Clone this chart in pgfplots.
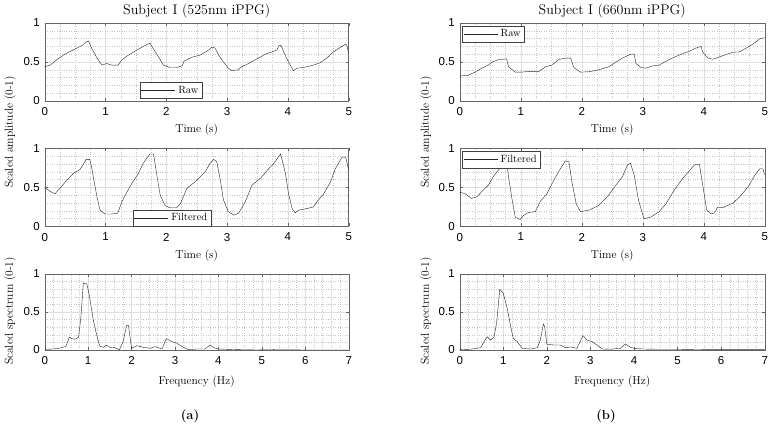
\documentclass[border=0pt]{standalone}
\usepackage{pgfplots}
\pgfplotsset{compat=1.18}
\usepackage{fontspec}
\newfontfamily\ticksf{Liberation Sans}

\pgfplotsset{
  panel/.style={
    scale only axis, width=304pt, height=78pt,
    anchor=south west,
    xmin=0, xmax=5, ymin=0, ymax=1,
    xtick={0,...,5}, ytick={0,0.5,1},
    minor x tick num=3, minor y tick num=4,
    grid=both,
    major grid style={black!13},
    minor grid style={dotted, black!22},
    axis line style={black!60},
    tick style={black!60},
    major tick length=3pt, minor tick length=0pt,
    tick label style={font=\fontsize{11.5}{12}\ticksf},
    /pgf/number format/assume math mode=true,
    xticklabel style={yshift=-3pt},
    yticklabel style={xshift=-1.5pt},
    xlabel style={font=\fontsize{11.5}{12}\selectfont,
      at={(axis description cs:0.5,0)}, anchor=base, yshift=-32pt},
    title style={font=\fontsize{14}{15}\selectfont,
      at={(axis description cs:0.5,1)}, anchor=base, yshift=2pt},
    legend style={font=\fontsize{10.5}{12}\selectfont, draw=black!75,
      inner sep=1pt, nodes={inner sep=2.8pt}, cells={anchor=west}},
    legend image code/.code={\draw[#1] (0pt,0pt) -- (34pt,0pt);},
    cycle list={{black!85, line width=0.6pt, no markers}},
  },
  spec/.style={panel, height=76pt, xmax=7, xtick={0,...,7},
    minor x tick num=4,
    xlabel style={yshift=-3pt}},
}

% raw, 525 nm
\pgfplotstableread{
t y
0 0.44
0.09 0.46
0.2 0.53
0.33 0.60
0.47 0.655
0.61 0.71
0.69 0.76
0.72 0.77
0.77 0.68
0.86 0.55
0.94 0.46
1.02 0.48
1.10 0.46
1.21 0.46
1.27 0.53
1.38 0.59
1.51 0.65
1.62 0.70
1.73 0.74
1.82 0.63
1.90 0.53
1.95 0.46
2.06 0.43
2.17 0.43
2.26 0.45
2.29 0.51
2.42 0.56
2.56 0.59
2.70 0.655
2.75 0.69
2.80 0.68
2.86 0.59
2.94 0.50
3.02 0.42
3.08 0.39
3.19 0.40
3.22 0.43
3.35 0.48
3.49 0.54
3.63 0.60
3.74 0.63
3.82 0.655
3.85 0.71
3.89 0.71
3.93 0.63
4.01 0.50
4.09 0.39
4.15 0.42
4.26 0.43
4.42 0.46
4.53 0.49
4.64 0.55
4.75 0.63
4.86 0.685
4.95 0.73
4.97 0.71
5.0 0.61
}\rawA

% filtered, 525 nm
\pgfplotstableread{
t y
0 0.50
0.09 0.45
0.17 0.42
0.25 0.49
0.36 0.59
0.47 0.68
0.58 0.73
0.63 0.79
0.68 0.86
0.74 0.86
0.77 0.765
0.81 0.59
0.86 0.38
0.91 0.21
0.99 0.16
1.10 0.16
1.20 0.17
1.27 0.32
1.40 0.51
1.54 0.68
1.62 0.81
1.73 0.93
1.79 0.93
1.84 0.68
1.90 0.40
1.98 0.27
2.06 0.24
2.17 0.24
2.23 0.29
2.34 0.49
2.50 0.59
2.64 0.70
2.72 0.81
2.78 0.86
2.83 0.83
2.89 0.59
2.94 0.34
3.02 0.19
3.11 0.145
3.19 0.17
3.30 0.32
3.41 0.53
3.55 0.62
3.66 0.72
3.77 0.81
3.88 0.93
3.96 0.68
4.01 0.42
4.07 0.23
4.12 0.175
4.18 0.21
4.31 0.23
4.42 0.25
4.48 0.32
4.59 0.42
4.70 0.57
4.78 0.74
4.89 0.89
4.95 0.89
5.0 0.72
}\filtA

% spectrum, 525 nm
\pgfplotstableread{
f y
0 0.01
0.2 0.013
0.35 0.026
0.47 0.044
0.5 0.066
0.57 0.17
0.62 0.15
0.70 0.14
0.78 0.17
0.83 0.41
0.89 0.88
0.97 0.87
1.03 0.71
1.12 0.39
1.20 0.19
1.27 0.05
1.35 0.035
1.41 0.066
1.51 0.035
1.62 0.03
1.72 0.004
1.80 0.10
1.89 0.33
1.93 0.32
2.0 0.02
2.12 0.057
2.27 0.035
2.43 0.022
2.54 0.044
2.66 0.022
2.70 0.013
2.80 0.15
2.93 0.11
3.04 0.09
3.19 0.035
3.31 0.004
3.50 0.013
3.69 0.013
3.81 0.066
3.89 0.03
4.0 0.013
4.19 0.009
4.5 0.004
4.88 0.0
5.27 0.004
6.0 0.0
7.0 0.0
}\specA

% raw, 660 nm
\pgfplotstableread{
t y
0 0.32
0.14 0.33
0.25 0.37
0.36 0.42
0.47 0.46
0.53 0.50
0.64 0.53
0.77 0.54
0.80 0.44
0.91 0.37
1.02 0.37
1.13 0.38
1.30 0.38
1.41 0.44
1.51 0.46
1.62 0.53
1.73 0.55
1.82 0.55
1.87 0.43
1.98 0.37
2.12 0.375
2.28 0.40
2.45 0.44
2.56 0.50
2.67 0.55
2.80 0.60
2.86 0.60
2.89 0.48
2.97 0.43
3.05 0.42
3.16 0.45
3.27 0.46
3.43 0.53
3.60 0.59
3.77 0.64
3.88 0.68
3.96 0.70
3.98 0.63
4.07 0.55
4.15 0.535
4.31 0.58
4.48 0.625
4.59 0.63
4.70 0.68
4.81 0.73
4.92 0.80
5.0 0.81
}\rawB

% filtered, 660 nm
\pgfplotstableread{
t y
0 0.44
0.09 0.42
0.19 0.36
0.28 0.38
0.39 0.47
0.47 0.53
0.55 0.64
0.64 0.73
0.72 0.83
0.76 0.87
0.80 0.64
0.86 0.34
0.91 0.12
0.99 0.09
1.05 0.145
1.13 0.18
1.24 0.19
1.32 0.32
1.43 0.42
1.54 0.59
1.65 0.74
1.73 0.84
1.79 0.83
1.84 0.57
1.91 0.29
1.98 0.19
2.12 0.21
2.28 0.27
2.42 0.38
2.56 0.53
2.67 0.64
2.75 0.79
2.80 0.81
2.86 0.66
2.93 0.34
3.02 0.10
3.13 0.12
3.27 0.19
3.38 0.29
3.52 0.47
3.66 0.62
3.77 0.72
3.85 0.79
3.93 0.80
3.98 0.55
4.05 0.21
4.12 0.16
4.18 0.175
4.23 0.25
4.31 0.24
4.48 0.30
4.59 0.38
4.73 0.51
4.84 0.66
4.92 0.74
4.97 0.74
5.0 0.66
}\filtB

% spectrum, 660 nm
\pgfplotstableread{
f y
0 0.005
0.25 0.01
0.48 0.03
0.56 0.11
0.63 0.175
0.71 0.13
0.79 0.175
0.85 0.37
0.92 0.80
1.0 0.745
1.09 0.55
1.17 0.31
1.23 0.15
1.32 0.11
1.44 0.02
1.63 0.013
1.78 0.03
1.85 0.13
1.92 0.34
1.95 0.31
2.0 0.075
2.16 0.066
2.31 0.066
2.43 0.03
2.54 0.04
2.69 0.022
2.83 0.19
2.92 0.13
3.04 0.11
3.15 0.066
3.27 0.013
3.46 0.01
3.69 0.022
3.80 0.08
3.92 0.035
4.03 0.018
4.22 0.013
4.53 0.01
4.98 0.01
5.67 0.005
7.0 0.005
}\specB

\begin{document}
\begin{tikzpicture}
% left column
\begin{axis}[panel, at={(44.7pt,345pt)}, title={Subject I (525nm iPPG)},
  xlabel={Time (s)},
  legend style={at={(axis description cs:0.313,0.03)}, anchor=south west}]
\addplot table[x=t,y=y] {\rawA};
\addlegendentry{Raw}
\end{axis}
\begin{axis}[panel, at={(44.7pt,219.5pt)}, xlabel={Time (s)},
  legend style={at={(axis description cs:0.29,0.0)}, anchor=south west}]
\addplot table[x=t,y=y] {\filtA};
\addlegendentry{Filtered}
\end{axis}
\begin{axis}[spec, at={(44.7pt,96pt)}, xlabel={Frequency (Hz)}]
\addplot table[x=f,y=y] {\specA};
\end{axis}
% right column
\begin{axis}[panel, width=305pt, at={(459.7pt,345pt)}, title={Subject I (660nm iPPG)},
  xlabel={Time (s)},
  legend style={at={(axis description cs:0.008,0.965)}, anchor=north west}]
\addplot table[x=t,y=y] {\rawB};
\addlegendentry{Raw}
\end{axis}
\begin{axis}[panel, width=305pt, at={(459.7pt,219.5pt)}, xlabel={Time (s)},
  legend style={at={(axis description cs:0.008,0.965)}, anchor=north west}]
\addplot table[x=t,y=y] {\filtB};
\addlegendentry{Filtered}
\end{axis}
\begin{axis}[spec, width=305pt, at={(459.7pt,96pt)}, xlabel={Frequency (Hz)}]
\addplot table[x=f,y=y] {\specB};
\end{axis}
% shared y labels
\begin{scope}[every node/.style={rotate=90, font=\fontsize{11.5}{12}\selectfont}]
\node at (10pt,314pt) {Scaled amplitude (0-1)};
\node at (10pt,135pt) {Scaled spectrum (0-1)};
\node at (426pt,314pt) {Scaled amplitude (0-1)};
\node at (426pt,135pt) {Scaled spectrum (0-1)};
\end{scope}
\node[font=\bfseries\fontsize{13}{14}\selectfont] at (190pt,30pt) {(a)};
\node[font=\bfseries\fontsize{13}{14}\selectfont] at (606pt,30pt) {(b)};
\pgfresetboundingbox
\path[use as bounding box] (0,0) rectangle (773pt,446pt);
\end{tikzpicture}
\end{document}
